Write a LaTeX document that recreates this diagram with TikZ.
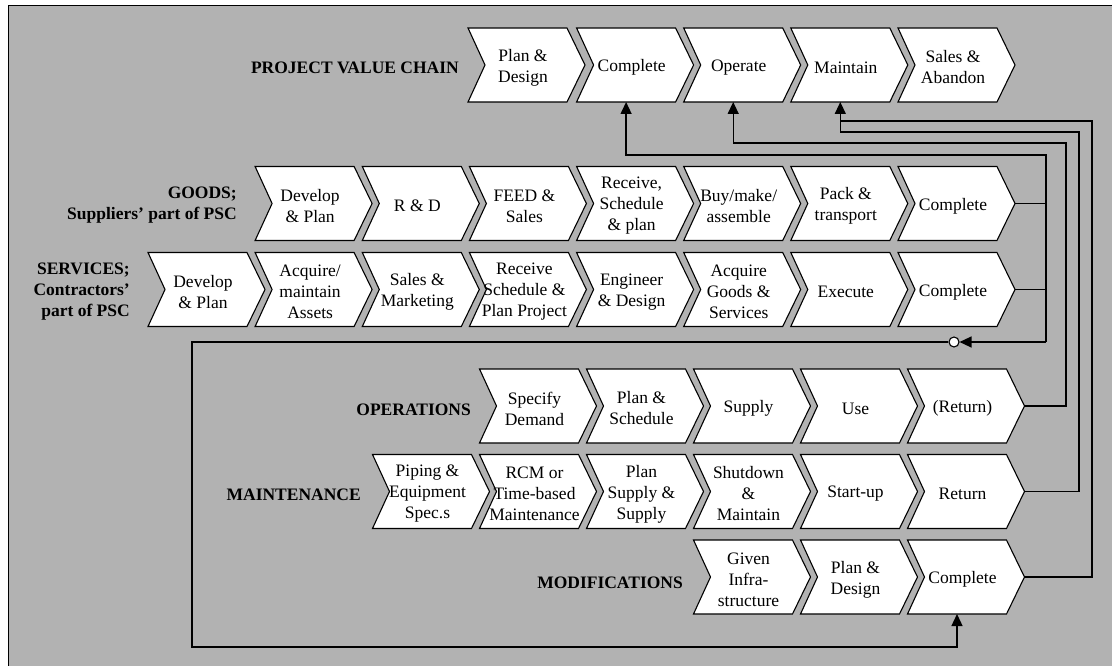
\documentclass[tikz,border=0pt]{standalone}
\usepackage{fontspec}
\setmainfont{Liberation Serif}
\usetikzlibrary{arrows.meta}
\definecolor{panelgray}{RGB}{178,178,178}
\tikzset{
  chevshape/.style={fill=white, draw=black, line width=1.1pt, line join=miter},
  chevbox/.style={minimum width=117pt, minimum height=74pt, inner sep=0pt, outer sep=0pt},
  chevtext/.style={align=center, inner sep=0pt, font=\fontsize{17.5}{21}\selectfont},
  lbl/.style={align=right, inner sep=0pt, yshift=-2.5pt, font=\fontsize{17.5}{21}\selectfont\bfseries},
  conn/.style={line width=1.3pt, draw=black},
  arrowend/.style={-{Triangle[width=11pt,length=12pt]}},
  junction/.style={circle, draw=black, fill=white, line width=1.1pt, minimum size=10pt, inner sep=0pt},
}
% chevron step: name, left x, top y, text
\newcommand\pscchev[4]{%
  \filldraw[chevshape] (#2,#3) -- ++(99,0) -- ++(18,37) -- ++(-18,37) -- ++(-99,0) -- ++(17,-37) -- cycle;
  \node[chevbox, anchor=north west] (#1) at (#2,#3) {};
  \node[chevtext] (#1-t) at ([xshift=-3.5pt,yshift=-2.5pt]#1.center) {#4};
}
\begin{document}
\begin{tikzpicture}[x=1pt, y=-1pt]
\useasboundingbox (0,0) rectangle (1112,666);
% panel
\filldraw[fill=panelgray, draw=black, line width=1.3pt] (8.5,5.5) rectangle (1140,700);

% project value chain
\node[lbl, anchor=east] (lpvc) at (459,65) {PROJECT VALUE CHAIN};
\pscchev{p1}{468}{28}{Plan \&\\Design}
\pscchev{p2}{576.6}{28}{Complete}
\pscchev{p3}{683.7}{28}{Operate}
\pscchev{p4}{790.8}{28}{Maintain}
\pscchev{p5}{898}{28}{Sales \&\\Abandon}

% goods
\node[lbl, anchor=east] (lgoods) at (237,203) {GOODS;\\Suppliers’ part of PSC};
\pscchev{g1}{255.1}{166.5}{Develop\\\& Plan}
\pscchev{g2}{362.3}{166.5}{R \& D}
\pscchev{g3}{469.4}{166.5}{FEED \&\\Sales}
\pscchev{g4}{576.6}{166.5}{Receive,\\Schedule\\\& plan}
\pscchev{g5}{683.7}{166.5}{Buy/make/\\assemble}
\pscchev{g6}{790.8}{166.5}{Pack \&\\transport}
\pscchev{g7}{898}{166.5}{Complete}

% services
\node[lbl, anchor=east] (lserv) at (130,289.5) {SERVICES;\\Contractors’\\part of PSC};
\pscchev{s1}{148}{252.5}{Develop\\\& Plan}
\pscchev{s2}{255.1}{252.5}{Acquire/\\maintain\\Assets}
\pscchev{s3}{362.3}{252.5}{Sales \&\\Marketing}
\pscchev{s4}{469.4}{252.5}{Receive\\Schedule \&\\Plan Project}
\pscchev{s5}{576.6}{252.5}{Engineer\\\& Design}
\pscchev{s6}{683.7}{252.5}{Acquire\\Goods \&\\Services}
\pscchev{s7}{790.8}{252.5}{Execute}
\pscchev{s8}{898}{252.5}{Complete}

% operations
\node[lbl, anchor=east] (lops) at (471,407) {OPERATIONS};
\pscchev{o1}{479.5}{369}{Specify\\Demand}
\pscchev{o2}{586.5}{369}{Plan \&\\Schedule}
\pscchev{o3}{693.5}{369}{Supply}
\pscchev{o4}{800.5}{369}{Use}
\pscchev{o5}{907.5}{369}{(Return)}

% maintenance
\node[lbl, anchor=east] (lmaint) at (361,492) {MAINTENANCE};
\pscchev{m1}{372.5}{454.5}{Piping \&\\Equipment\\Spec.s}
\pscchev{m2}{479.5}{454.5}{RCM or\\Time-based\\Maintenance}
\pscchev{m3}{586.5}{454.5}{Plan\\Supply \&\\Supply}
\pscchev{m4}{693.5}{454.5}{Shutdown\\\&\\Maintain}
\pscchev{m5}{800.5}{454.5}{Start-up}
\pscchev{m6}{907.5}{454.5}{Return}

% modifications
\node[lbl, anchor=east] (lmods) at (683,580) {MODIFICATIONS};
\pscchev{d1}{693.5}{540}{Given\\Infra-\\structure}
\pscchev{d2}{800.5}{540}{Plan \&\\Design}
\pscchev{d3}{907.5}{540}{Complete}

% entry points under the value-chain steps
\coordinate (p2in) at ([xshift=-9pt]p2.south);
\coordinate (p3in) at ([xshift=-9pt]p3.south);
\coordinate (p4in) at ([xshift=-9pt]p4.south);
\coordinate (d3in) at ([xshift=-9pt]d3.south);

% bus corners
\coordinate (busTop) at (1046,155);
\coordinate (busBot) at (1046,342);
\coordinate (opsTurn) at (1066,143);
\coordinate (mntTurn) at (1079,132);
\coordinate (modTurn) at (1092,121);
\coordinate (loopTL) at (192,342);
\coordinate (loopBL) at (192,647);
\node[junction] (jc) at (954,342) {};

% goods and services completion feed the project
\draw[conn] (g7.east) -- (g7.east -| busTop);
\draw[conn] (s8.east) -- (s8.east -| busTop);
\draw[conn, arrowend] (busBot) -- (busTop) -| (p2in);
\draw[conn, arrowend] (busBot) -- (jc.east);
\draw[conn, arrowend] (jc.west) -- (loopTL) -- (loopBL) -| (d3in);

% operations, maintenance and modifications return loops
\draw[conn, arrowend] (o5.east) -| (opsTurn) -| (p3in);
\draw[conn, arrowend] (m6.east) -| (mntTurn) -| (p4in);
\draw[conn] (d3.east) -| (modTurn) -- (p4in |- modTurn);
\end{tikzpicture}
\end{document}
